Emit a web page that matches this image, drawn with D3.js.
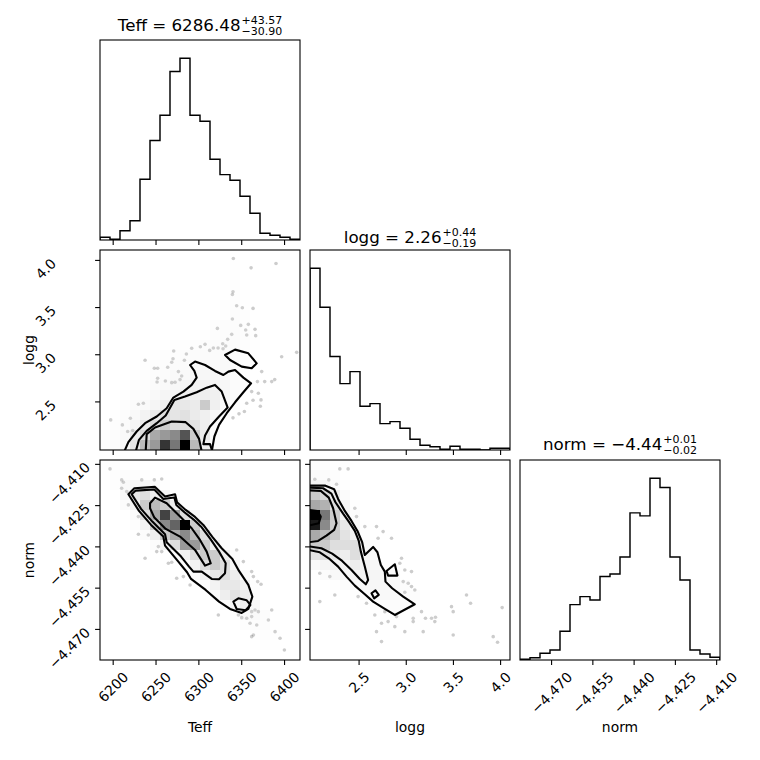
<!DOCTYPE html>
<html><head><meta charset="utf-8">
<script src="https://cdn.jsdelivr.net/npm/d3@7"></script>
<style>body{margin:0;background:#fff}svg{display:block}text{font-family:"DejaVu Sans",sans-serif;fill:#000}</style>
</head><body>
<svg id="chart" width="760" height="760"></svg>
<script>
// ---------- data ----------
const labels = ["Teff", "logg", "norm"];
const ranges = [[6185.2, 6418.6], [1.985, 4.105], [-4.4813, -4.4086]];
const tickValues = [[6200, 6250, 6300, 6350, 6400], [2.5, 3.0, 3.5, 4.0], [-4.470, -4.455, -4.440, -4.425, -4.410]];
const tickLabels = [["6200", "6250", "6300", "6350", "6400"], ["2.5", "3.0", "3.5", "4.0"], ["\u22124.470", "\u22124.455", "\u22124.440", "\u22124.425", "\u22124.410"]];
const titleMedian = ["6286.48", "2.26", "\u22124.44"];
const titlePlus = ["43.57", "0.44", "0.01"];
const titleMinus = ["30.90", "0.19", "0.02"];

const histTeff = [8, 2, 28, 58, 182, 298, 374, 505, 545, 374, 356, 242, 196, 179, 131, 80, 20, 14, 8, 2];
const histLogg = [545, 428, 280, 199, 235, 131, 139, 79, 85, 65, 32, 14, 10, 2, 11, 2, 2, 0, 5, 5];
const histNorm = [2, 7, 20, 30, 86, 166, 190, 180, 250, 258, 309, 441, 432, 545, 517, 309, 240, 30, 18, 8];

// 2D histograms: rows listed from top bin (19) to bottom bin (0)
const gridTeffLogg = [
 [0,0,0,0,0,0,0,0,0,0,0,0,0,0,0,0,0,0,10,0],
 [0,0,0,0,0,0,0,0,0,0,0,0,0,6,6,0,0,0,0,0],
 [0,0,0,0,0,0,0,0,0,0,0,0,0,6,0,0,0,0,0,0],
 [0,0,0,0,0,0,0,0,0,0,0,0,6,8,0,0,0,0,0,0],
 [0,0,0,0,0,0,0,0,0,0,0,0,0,8,6,0,0,0,0,0],
 [0,0,0,0,0,0,0,0,0,0,0,0,8,8,6,0,0,0,0,0],
 [0,0,0,0,0,0,0,0,0,0,0,0,6,10,8,0,0,0,0,0],
 [0,0,0,0,0,0,0,0,0,0,0,8,10,10,8,0,0,0,0,0],
 [0,0,0,0,0,0,0,0,0,0,6,8,10,12,10,6,0,0,0,0],
 [0,0,0,0,0,0,0,6,6,8,10,12,12,12,8,6,0,0,0,0],
 [0,0,0,0,0,6,8,8,10,12,12,12,14,12,8,6,0,0,0,0],
 [0,0,0,0,6,8,10,12,12,14,15,15,15,12,8,0,0,0,0,0],
 [0,0,0,6,8,10,12,15,15,18,18,18,15,12,8,0,0,0,0,0],
 [0,0,0,8,10,12,15,18,20,22,22,22,18,12,6,0,0,0,0,0],
 [0,0,6,10,12,15,20,22,24,24,26,24,18,10,0,0,0,0,0,0],
 [0,0,8,12,15,20,26,32,30,28,45,24,15,8,0,0,0,0,0,0],
 [0,6,10,15,22,28,36,32,34,28,24,18,10,0,0,0,0,0,0,0],
 [0,8,12,20,28,38,45,38,36,33,24,12,0,0,0,0,0,0,0,0],
 [6,10,15,26,38,58,63,68,82,45,30,12,0,0,0,0,0,0,0,0],
 [8,12,18,30,52,63,89,73,100,52,26,10,0,0,0,0,0,0,0,0]
];
const gridTeffNorm = [
 [5,8,0,0,0,0,0,0,0,0,0,0,0,0,0,0,0,0,0,0],
 [0,8,10,8,6,0,0,0,0,0,0,0,0,0,0,0,0,0,0,0],
 [0,8,15,20,20,15,6,0,0,0,0,0,0,0,0,0,0,0,0,0],
 [0,0,18,30,36,26,18,6,0,0,0,0,0,0,0,0,0,0,0,0],
 [0,0,10,22,45,52,45,26,10,0,0,0,0,0,0,0,0,0,0,0],
 [0,0,0,12,36,58,86,63,36,18,0,0,0,0,0,0,0,0,0,0],
 [0,0,0,8,22,45,68,78,100,45,20,0,0,0,0,0,0,0,0,0],
 [0,0,0,0,10,26,45,58,68,52,36,18,0,0,0,0,0,0,0,0],
 [0,0,0,0,0,10,22,36,63,63,45,26,10,0,0,0,0,0,0,0],
 [0,0,0,0,0,0,0,10,22,36,45,45,26,10,0,0,0,0,0,0],
 [0,0,0,0,0,0,0,0,10,22,36,45,36,18,0,0,0,0,0,0],
 [0,0,0,0,0,0,0,0,0,10,22,30,36,26,10,0,0,0,0,0],
 [0,0,0,0,0,0,0,0,0,0,10,22,30,30,22,8,0,0,0,0],
 [0,0,0,0,0,0,0,0,0,0,0,12,26,33,26,12,0,0,0,0],
 [0,0,0,0,0,0,0,0,0,0,0,0,10,20,26,18,6,0,0,0],
 [0,0,0,0,0,0,0,0,0,0,0,0,0,10,15,15,10,0,0,0],
 [0,0,0,0,0,0,0,0,0,0,0,0,0,0,8,10,10,6,0,0],
 [0,0,0,0,0,0,0,0,0,0,0,0,0,0,0,6,8,6,0,0],
 [0,0,0,0,0,0,0,0,0,0,0,0,0,0,0,0,5,5,0,0],
 [0,0,0,0,0,0,0,0,0,0,0,0,0,0,0,0,0,0,0,0]
];
const gridLoggNorm = [
 [6,6,0,5,0,0,0,0,0,0,0,0,0,0,0,0,0,0,0,0],
 [12,10,8,0,0,0,0,0,0,0,0,0,0,0,0,0,0,0,0,0],
 [22,20,12,6,0,0,0,0,0,0,0,0,0,0,0,0,0,0,0,0],
 [45,40,26,12,0,0,0,0,0,0,0,0,0,0,0,0,0,0,0,0],
 [58,55,36,18,6,0,0,0,0,0,0,0,0,0,0,0,0,0,0,0],
 [100,73,45,22,10,0,0,0,0,0,0,0,0,0,0,0,0,0,0,0],
 [95,68,45,30,15,6,0,0,0,0,0,0,0,0,0,0,0,0,0,0],
 [58,52,45,33,22,10,0,0,0,0,0,0,0,0,0,0,0,0,0,0],
 [45,45,36,36,36,18,6,0,0,0,0,0,0,0,0,0,0,0,0,0],
 [33,36,30,26,36,20,12,0,0,0,0,0,0,0,0,0,0,0,0,0],
 [15,20,22,22,26,22,18,12,0,0,0,0,0,0,0,0,0,0,0,0],
 [0,10,15,18,20,22,20,15,10,0,0,0,0,0,0,0,0,0,0,0],
 [0,0,6,10,15,18,18,18,15,10,0,0,0,0,0,0,0,0,0,0],
 [0,0,0,0,6,10,12,15,15,12,10,6,0,0,0,0,0,0,0,0],
 [0,0,0,0,0,0,6,10,10,10,8,6,0,0,0,0,0,0,0,0],
 [0,0,0,0,0,0,0,0,6,6,6,0,5,0,0,0,0,0,0,0],
 [0,0,0,0,0,0,0,0,0,5,0,5,0,0,0,0,0,0,0,0],
 [0,0,0,0,0,0,0,0,0,0,0,0,0,0,0,0,0,0,0,0],
 [0,0,0,0,0,0,0,0,0,0,0,0,0,0,0,0,0,0,0,0],
 [0,0,0,0,0,0,0,0,0,0,0,0,0,0,0,0,0,0,0,0]
];

// sample points outside the contours [x, y]
const ptsTeffLogg = [[6340.8,4.015],[6361.5,3.916],[6390.6,3.962],[6340.4,3.662],[6339.7,3.634],[6344.7,3.514],[6351.3,3.493],[6363.8,3.486],[6339.7,3.373],[6349.4,3.306],[6358.3,3.317],[6355.2,3.257],[6366.1,3.264],[6356.4,3.204],[6366.9,3.197],[6338.9,3.211],[6334.2,3.158],[6331.9,3.087],[6328.4,3.112],[6322.2,3.274],[6307.8,3.105],[6302.3,3.080],[6313.2,3.041],[6317.5,3.066],[6323.0,3.066],[6328.8,3.059],[6271.2,3.034],[6292.2,3.063],[6286.0,3.003],[6237.8,2.936],[6270.4,2.953],[6268.9,2.915],[6252.5,2.851],[6248.6,2.851],[6264.2,2.862],[6283.7,2.936],[6276.7,2.816],[6280.5,2.770],[6272.8,2.703],[6268.9,2.699],[6261.5,2.717],[6251.8,2.706],[6252.5,2.745],[6278.6,2.731],[6235.8,2.481],[6230.0,2.470],[6197.7,2.304],[6211.3,2.251],[6220.6,2.322],[6223.4,2.191],[6217.5,2.181],[6373.9,2.816],[6368.9,2.710],[6377.4,2.710],[6385.6,2.710],[6389.1,2.731],[6362.2,2.604],[6370.0,2.587],[6373.1,2.516],[6363.8,2.512],[6372.3,2.449],[6353.7,2.393],[6347.4,2.368],[6340.4,2.326],[6356.4,2.481],[6397.2,2.974],[6414.7,3.020]];
const ptsTeffNorm = [[6196.9,-4.41184],[6210.5,-4.41584],[6212.5,-4.41669],[6233.9,-4.41584],[6248.6,-4.41584],[6257.2,-4.41548],[6210.5,-4.41887],[6216.4,-4.42008],[6218.3,-4.42493],[6230.0,-4.43560],[6237.8,-4.44432],[6251.4,-4.44190],[6257.2,-4.44190],[6265.0,-4.44614],[6268.9,-4.44578],[6274.7,-4.45159],[6282.5,-4.45099],[6290.3,-4.45402],[6296.1,-4.45038],[6344.7,-4.44129],[6352.5,-4.44553],[6362.2,-4.44917],[6364.2,-4.45099],[6369.2,-4.45281],[6373.1,-4.45378],[6362.2,-4.46372],[6366.1,-4.46311],[6370.0,-4.46372],[6346.7,-4.46493],[6350.6,-4.46590],[6356.4,-4.46614],[6362.2,-4.46553],[6360.3,-4.46796],[6368.1,-4.46856],[6381.7,-4.46675],[6385.6,-4.46311],[6389.5,-4.47099],[6395.3,-4.47341],[6400.4,-4.47765],[6364.2,-4.47220],[6362.2,-4.47281],[6230.0,-4.42917],[6241.6,-4.43584],[6253.3,-4.44008],[6307.8,-4.45281],[6313.6,-4.45523],[6340.8,-4.45523],[6350.6,-4.45644],[6323.3,-4.46493]];
const ptsLoggNorm = [[2.301,-4.41184],[2.389,-4.41184],[2.036,-4.41560],[2.184,-4.41584],[2.266,-4.41742],[2.460,-4.42614],[2.478,-4.42917],[2.566,-4.43281],[2.690,-4.43281],[2.760,-4.43463],[2.707,-4.43705],[2.849,-4.43705],[2.955,-4.44432],[2.937,-4.44614],[2.990,-4.44856],[3.061,-4.44917],[2.973,-4.45281],[3.026,-4.45341],[3.061,-4.45462],[3.096,-4.45584],[2.990,-4.45668],[2.089,-4.44978],[2.195,-4.45099],[2.089,-4.46008],[2.248,-4.45765],[2.495,-4.45826],[2.584,-4.46068],[2.672,-4.46493],[2.743,-4.46796],[2.813,-4.46735],[2.884,-4.46917],[2.990,-4.47099],[3.079,-4.46735],[3.185,-4.47099],[3.167,-4.46372],[3.209,-4.46614],[3.273,-4.46614],[3.315,-4.46578],[3.308,-4.46735],[3.485,-4.46190],[3.503,-4.46372],[3.644,-4.45765],[3.687,-4.46068],[3.503,-4.47220],[3.927,-4.47281],[3.973,-4.47487],[4.022,-4.46226],[2.690,-4.47099],[2.743,-4.47462],[2.778,-4.46372],[2.990,-4.46190],[3.079,-4.46614],[2.902,-4.46553]];

// contour lines [x, y]
const tlC1 = [[6213.6,1.97],[6218.3,2.068],[6228.0,2.181],[6237.8,2.269],[6251.4,2.340],[6263.0,2.428],[6270.8,2.541],[6282.5,2.604],[6292.2,2.675],[6298.0,2.752],[6295.3,2.823],[6290.3,2.886],[6296.1,2.922],[6307.8,2.886],[6319.4,2.823],[6329.2,2.780],[6335.0,2.816],[6342.8,2.833],[6352.5,2.752],[6361.5,2.692],[6352.5,2.597],[6342.8,2.491],[6333.1,2.375],[6324.1,2.251],[6318.7,2.128],[6315.6,1.97]];
const tlC2 = [[6226.9,1.97],[6230.7,2.093],[6239.7,2.188],[6251.4,2.269],[6261.9,2.350],[6272.0,2.516],[6284.4,2.551],[6298.0,2.597],[6309.7,2.646],[6319.4,2.675],[6327.2,2.604],[6334.2,2.435],[6324.1,2.340],[6313.6,2.234],[6307.8,2.139],[6305.8,2.047],[6313.6,2.047],[6316.3,1.97]];
const tlC3 = [[6238.5,1.97],[6239.7,2.153],[6249.4,2.223],[6268.9,2.287],[6285.2,2.280],[6294.2,2.209],[6300.8,2.103],[6303.9,1.97]];
const tlIsland = [[6331.1,2.992],[6342.8,3.049],[6358.3,3.010],[6368.1,2.904],[6362.2,2.851],[6350.6,2.869],[6337.0,2.939]];

const tnC1 = [[6218.3,-4.42105],[6225.3,-4.41887],[6249.4,-4.41838],[6261.1,-4.42190],[6272.8,-4.42105],[6275.1,-4.42396],[6285.2,-4.42675],[6296.1,-4.42929],[6305.8,-4.43220],[6316.3,-4.43657],[6327.2,-4.44069],[6339.7,-4.44457],[6347.4,-4.44893],[6358.3,-4.45402],[6363.0,-4.45826],[6358.3,-4.46274],[6350.6,-4.46420],[6336.9,-4.46274],[6324.1,-4.46008],[6308.5,-4.45584],[6291.4,-4.45184],[6286.8,-4.44941],[6275.9,-4.44529],[6261.1,-4.43972],[6259.1,-4.43644],[6244.8,-4.43220],[6230.7,-4.42711]];
const tnC2 = [[6222.2,-4.42105],[6226.9,-4.41972],[6248.6,-4.41935],[6259.1,-4.42275],[6272.0,-4.42226],[6274.3,-4.42493],[6283.7,-4.42760],[6294.5,-4.43026],[6303.9,-4.43305],[6314.0,-4.43729],[6324.1,-4.44190],[6331.9,-4.44614],[6331.1,-4.44978],[6324.1,-4.45196],[6315.6,-4.45184],[6303.9,-4.44917],[6294.2,-4.44917],[6289.1,-4.44735],[6279.8,-4.44372],[6263.0,-4.43850],[6261.1,-4.43560],[6246.3,-4.43099],[6233.1,-4.42638]];
const tnC3 = [[6243.6,-4.42432],[6249.4,-4.42226],[6263.0,-4.42432],[6278.6,-4.42917],[6292.2,-4.43341],[6301.9,-4.43766],[6309.7,-4.44190],[6314.4,-4.44614],[6307.8,-4.44699],[6296.1,-4.44129],[6278.6,-4.43644],[6261.9,-4.43366],[6248.6,-4.42954],[6243.6,-4.42614]];
const tnIsland = [[6340.8,-4.46008],[6346.7,-4.45887],[6356.4,-4.45959],[6360.7,-4.46129],[6355.2,-4.46323],[6344.7,-4.46274]];

const lnC1 = [[1.97,-4.41790],[2.142,-4.41790],[2.241,-4.41923],[2.283,-4.42275],[2.354,-4.42711],[2.425,-4.43075],[2.488,-4.43438],[2.538,-4.43850],[2.566,-4.44311],[2.654,-4.44020],[2.700,-4.44214],[2.736,-4.44675],[2.778,-4.44917],[2.785,-4.45281],[2.856,-4.45523],[2.973,-4.45826],[3.096,-4.46105],[2.884,-4.46493],[2.778,-4.46274],[2.654,-4.46008],[2.566,-4.45741],[2.460,-4.45426],[2.372,-4.45099],[2.283,-4.44735],[2.184,-4.44432],[2.089,-4.44214],[1.97,-4.44129]];
const lnC2 = [[1.97,-4.41863],[2.124,-4.41887],[2.212,-4.42081],[2.255,-4.42396],[2.336,-4.42808],[2.396,-4.43099],[2.460,-4.43438],[2.502,-4.43802],[2.524,-4.44190],[2.566,-4.44735],[2.601,-4.45220],[2.577,-4.45378],[2.513,-4.45184],[2.425,-4.44856],[2.326,-4.44529],[2.220,-4.44263],[2.106,-4.44069],[1.97,-4.43996]];
const lnC3 = [[1.97,-4.41960],[2.099,-4.41984],[2.184,-4.42226],[2.230,-4.42614],[2.266,-4.43160],[2.241,-4.43402],[2.159,-4.43608],[2.071,-4.43802],[1.97,-4.43850]];
const lnC4 = [[1.97,-4.42675],[2.064,-4.42711],[2.099,-4.42917],[2.078,-4.43160],[1.97,-4.43244]];
const lnIsland1 = [[2.796,-4.44893],[2.884,-4.44650],[2.912,-4.45062],[2.813,-4.45062]];
const lnIsland2 = [[2.637,-4.45705],[2.679,-4.45596],[2.714,-4.45765],[2.665,-4.45887]];

// ---------- drawing ----------
const svg = d3.select("#chart");
const defs = svg.append("defs");
const S = 200, GAP = 10, L = 100, T = 40;
const px = c => L + c * (S + GAP);
const py = r => T + r * (S + GAP);
const xs = ranges.map((d, c) => d3.scaleLinear().domain(d).range([px(c), px(c) + S]));
const ysFor = r => d3.scaleLinear().domain(ranges[r]).range([py(r) + S, py(r)]);
const edges = d => d3.range(21).map(k => d[0] + k * (d[1] - d[0]) / 20);
const FS = 13.9;

function clip(r, c) {
  const id = "clip" + r + c;
  defs.append("clipPath").attr("id", id).append("rect")
    .attr("x", px(c)).attr("y", py(r)).attr("width", S).attr("height", S);
  return "url(#" + id + ")";
}

function drawHist(k, counts) {
  const x = xs[k], e = edges(ranges[k]);
  const y = d3.scaleLinear().domain([0, 1.1 * d3.max(counts)]).range([py(k) + S, py(k)]);
  const pts = [[e[0], 0]].concat(counts.map((v, i) => [e[i], v]), [[e[20], counts[19]], [e[20], 0]]);
  svg.append("path").attr("clip-path", clip(k, k))
    .attr("d", d3.line().x(d => x(d[0])).y(d => y(d[1])).curve(d3.curveStepAfter)(pts))
    .attr("fill", "none").attr("stroke", "#000").attr("stroke-width", 1.45);
}

function draw2D(r, c, grid, pts, lines, covers) {
  const x = xs[c], y = ysFor(r);
  const g = svg.append("g").attr("clip-path", clip(r, c));
  g.selectAll("circle.pt").data(pts).join("circle").attr("class", "pt")
    .attr("cx", d => x(d[0])).attr("cy", d => y(d[1])).attr("r", 1.8)
    .attr("fill", "#000").attr("fill-opacity", 0.2);
  const line = d3.line().x(d => x(d[0])).y(d => y(d[1]));
  g.selectAll("path.cover").data(covers).join("path").attr("class", "cover")
    .attr("d", d => line(d) + "Z").attr("fill", "#fff");
  const xe = edges(ranges[c]), ye = edges(ranges[r]);
  const hmax = d3.max(grid.flat());
  const cells = [];
  grid.forEach((row, ri) => { const j = 19 - ri; row.forEach((v, i) => { if (v > 0) cells.push({ i, j, f: v / hmax }); }); });
  g.selectAll("rect.cell").data(cells).join("rect").attr("class", "cell")
    .attr("x", d => x(xe[d.i])).attr("y", d => y(ye[d.j + 1]))
    .attr("width", d => x(xe[d.i + 1]) - x(xe[d.i])).attr("height", d => y(ye[d.j]) - y(ye[d.j + 1]))
    .attr("fill", d => { const v = Math.round(255 * (1 - d.f)); return `rgb(${v},${v},${v})`; })
    .attr("fill-opacity", d => d.f).attr("shape-rendering", "crispEdges");
  g.selectAll("path.ct").data(lines).join("path").attr("class", "ct")
    .attr("d", d => line(d.pts) + (d.closed ? "Z" : ""))
    .attr("fill", "none").attr("stroke", "#000").attr("stroke-width", 2.1).attr("stroke-linejoin", "round");
}

drawHist(0, histTeff);
drawHist(1, histLogg);
drawHist(2, histNorm);

draw2D(1, 0, gridTeffLogg, ptsTeffLogg,
  [{ pts: tlC1 }, { pts: tlC2 }, { pts: tlC3 }, { pts: tlIsland, closed: true }],
  [tlC1, tlIsland]);
draw2D(2, 0, gridTeffNorm, ptsTeffNorm,
  [{ pts: tnC1, closed: true }, { pts: tnC2, closed: true }, { pts: tnC3, closed: true }, { pts: tnIsland, closed: true }],
  [tnC1, tnIsland]);
draw2D(2, 1, gridLoggNorm, ptsLoggNorm,
  [{ pts: lnC1 }, { pts: lnC2 }, { pts: lnC3 }, { pts: lnC4 }, { pts: lnIsland1, closed: true }, { pts: lnIsland2, closed: true }],
  [lnC1, lnIsland1, lnIsland2]);

// axes
const panels = [[0, 0], [1, 0], [1, 1], [2, 0], [2, 1], [2, 2]];
panels.forEach(([r, c]) => {
  const showX = r === 2;
  const ax = svg.append("g").attr("transform", `translate(0,${py(r) + S})`)
    .call(d3.axisBottom(xs[c]).tickValues(tickValues[c]).tickSize(4.9)
      .tickFormat((d, i) => showX ? tickLabels[c][i] : ""));
  ax.select(".domain").remove();
  ax.attr("font-family", "DejaVu Sans").attr("font-size", FS);
  ax.selectAll(".tick line").attr("stroke-width", 1.1);
  if (showX) {
    ax.selectAll(".tick text").each(function () {
      const t = d3.select(this);
      t.attr("y", null).attr("dy", null).attr("text-anchor", "middle").attr("dominant-baseline", "central");
      const w = this.getComputedTextLength();
      t.attr("transform", `translate(0,${11 + (w + 10) * 0.3536}) rotate(-45)`);
    });
  }
  if (r !== c) {
    const showY = c === 0;
    const ay = svg.append("g").attr("transform", `translate(${px(c)},0)`)
      .call(d3.axisLeft(ysFor(r)).tickValues(tickValues[r]).tickSize(4.9)
        .tickFormat((d, i) => showY ? tickLabels[r][i] : ""));
    ay.select(".domain").remove();
    ay.attr("font-family", "DejaVu Sans").attr("font-size", FS);
    ay.selectAll(".tick line").attr("stroke-width", 1.1);
    if (showY) {
      const ex = r === 1 ? 57 : 91;
      ay.selectAll(".tick text").attr("x", 0).attr("dy", null).attr("text-anchor", "end")
        .attr("transform", `translate(${ex - px(c)},4) rotate(-45)`);
    }
  }
  svg.append("rect").attr("x", px(c)).attr("y", py(r)).attr("width", S).attr("height", S)
    .attr("fill", "none").attr("stroke", "#000").attr("stroke-width", 1.1);
});

// axis labels
labels.forEach((lab, k) => {
  svg.append("text").attr("x", px(k) + S / 2).attr("y", 731.5).attr("text-anchor", "middle")
    .attr("font-size", FS).text(lab);
});
[1, 2].forEach(r => {
  svg.append("text").attr("transform", `translate(34,${py(r) + S / 2}) rotate(-90)`)
    .attr("text-anchor", "middle").attr("font-size", FS).text(labels[r]);
});

// titles: one text each, median with stacked upper / lower errors
const titleBase = [30.7, 243, 450];
const SFS = 11;
labels.forEach((lab, k) => {
  const main = `${lab} = ${titleMedian[k]}`;
  const probe = svg.append("text").attr("font-size", 16.7).text(main);
  const wm = probe.node().getComputedTextLength();
  probe.attr("font-size", SFS).text("+" + titlePlus[k]);
  const wp = probe.node().getComputedTextLength();
  probe.text("\u2212" + titleMinus[k]);
  const wn = probe.node().getComputedTextLength();
  probe.remove();
  const x0 = px(k) + S / 2 - (wm + 1 + Math.max(wp, wn)) / 2;
  const b = titleBase[k];
  const t = svg.append("text").attr("x", x0).attr("y", b);
  t.append("tspan").attr("font-size", 16.7).text(main);
  t.append("tspan").attr("font-size", SFS).attr("x", x0 + wm + 1).attr("y", b - 7).text("+" + titlePlus[k]);
  t.append("tspan").attr("font-size", SFS).attr("x", x0 + wm + 1).attr("y", b + 4.2).text("\u2212" + titleMinus[k]);
});
</script>
</body></html>
